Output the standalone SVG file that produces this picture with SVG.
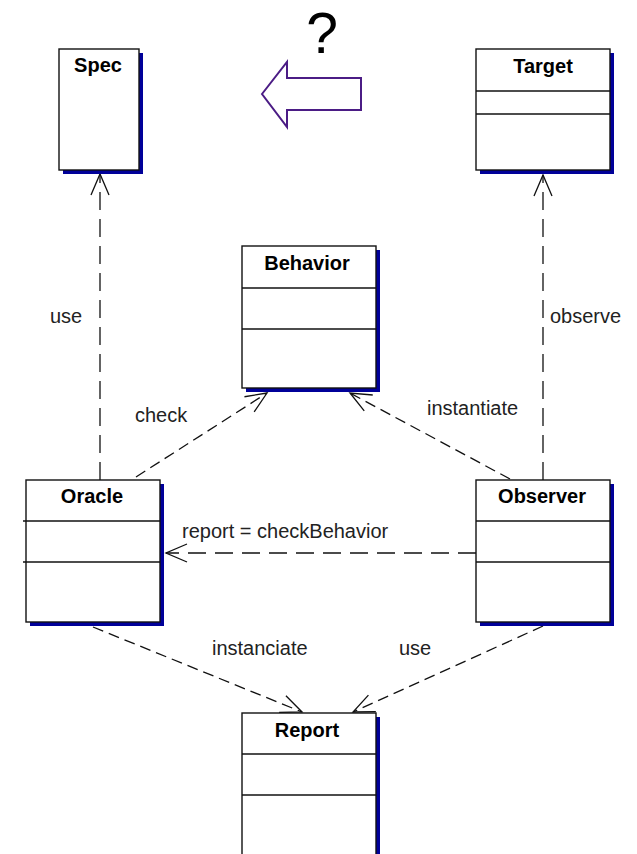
<svg xmlns="http://www.w3.org/2000/svg" width="637" height="854" viewBox="0 0 637 854">
  <style>
    .box { fill: #ffffff; stroke: #111111; stroke-width: 1.4; }
    .shadow { fill: #000099; }
    .div { stroke: #111111; stroke-width: 1.4; }
    .name { font-family: "Liberation Sans", Arial, sans-serif; font-size: 20px; font-weight: bold; fill: #000000; text-anchor: middle; }
    .lbl { font-family: "Liberation Sans", Arial, sans-serif; font-size: 20px; fill: #222222; }
    .dep { fill: none; stroke: #111111; stroke-width: 1.3; marker-end: url(#open); }
    .straight { stroke-dasharray: 18 9; }
    .slant { stroke-dasharray: 11 6; }
  </style>
  <defs>
    <marker id="open" viewBox="-22 -11 24 22" markerWidth="24" markerHeight="22" refX="0" refY="0" orient="auto" markerUnits="userSpaceOnUse">
      <path d="M-21,-9 L0,0 L-21,9" fill="none" stroke="#111111" stroke-width="1.3" stroke-dasharray="none"/>
    </marker>
  </defs>

  <rect width="637" height="854" fill="#ffffff"/>

  <!-- hollow arrow with question mark -->
  <g id="hint">
    <polygon points="262,94 287,62 287,78 361,78 361,110 287,110 287,127" fill="#ffffff" stroke="#4b1c85" stroke-width="2"/>
    <text x="322" y="53" font-family="Liberation Sans, Arial, sans-serif" font-size="57" text-anchor="middle" fill="#000000">?</text>
  </g>

  <!-- dependencies -->
  <g id="connectors">
    <path class="dep straight" d="M100,480 L100,174"/>
    <path class="dep straight" d="M543,480 L543,175"/>
    <path class="dep slant" d="M136,477 L267,393"/>
    <path class="dep slant" d="M510,479 L350,393"/>
    <path class="dep straight" d="M476,553 L166,553"/>
    <path class="dep slant" d="M93,627 L302,712"/>
    <path class="dep slant" d="M543,626 L353,712"/>
    <text class="lbl" x="50" y="323">use</text>
    <text class="lbl" x="550" y="323">observe</text>
    <text class="lbl" x="135" y="422">check</text>
    <text class="lbl" x="427" y="415">instantiate</text>
    <text class="lbl" x="182" y="538">report = checkBehavior</text>
    <text class="lbl" x="212" y="655">instanciate</text>
    <text class="lbl" x="399" y="655">use</text>
  </g>

  <g id="spec">
    <rect class="shadow" x="63" y="53" width="80" height="121"/>
    <rect class="box" x="59" y="49" width="80" height="121"/>
    <text class="name" x="98" y="72">Spec</text>
  </g>

  <g id="target">
    <rect class="shadow" x="480" y="53" width="134" height="121"/>
    <rect class="box" x="476" y="49" width="134" height="121"/>
    <line class="div" x1="476" y1="91" x2="610" y2="91"/>
    <line class="div" x1="476" y1="114" x2="610" y2="114"/>
    <text class="name" x="543" y="73">Target</text>
  </g>

  <g id="behavior">
    <rect class="shadow" x="246" y="250" width="134" height="142"/>
    <rect class="box" x="242" y="246" width="134" height="142"/>
    <line class="div" x1="242" y1="288" x2="376" y2="288"/>
    <line class="div" x1="242" y1="329" x2="376" y2="329"/>
    <text class="name" x="307" y="270">Behavior</text>
  </g>

  <g id="oracle">
    <rect class="shadow" x="30" y="484" width="134" height="142"/>
    <rect class="box" x="26" y="480" width="134" height="142"/>
    <line class="div" x1="23" y1="521" x2="160" y2="521"/>
    <line class="div" x1="23" y1="562" x2="160" y2="562"/>
    <text class="name" x="92" y="503">Oracle</text>
  </g>

  <g id="observer">
    <rect class="shadow" x="480" y="484" width="134" height="142"/>
    <rect class="box" x="476" y="480" width="134" height="142"/>
    <line class="div" x1="476" y1="521" x2="610" y2="521"/>
    <line class="div" x1="476" y1="562" x2="610" y2="562"/>
    <text class="name" x="542" y="503">Observer</text>
  </g>

  <g id="report">
    <rect class="shadow" x="246" y="717" width="134" height="160"/>
    <rect class="box" x="242" y="713" width="134" height="160"/>
    <line class="div" x1="242" y1="754" x2="376" y2="754"/>
    <line class="div" x1="242" y1="795" x2="376" y2="795"/>
    <text class="name" x="307" y="737">Report</text>
  </g>
</svg>
